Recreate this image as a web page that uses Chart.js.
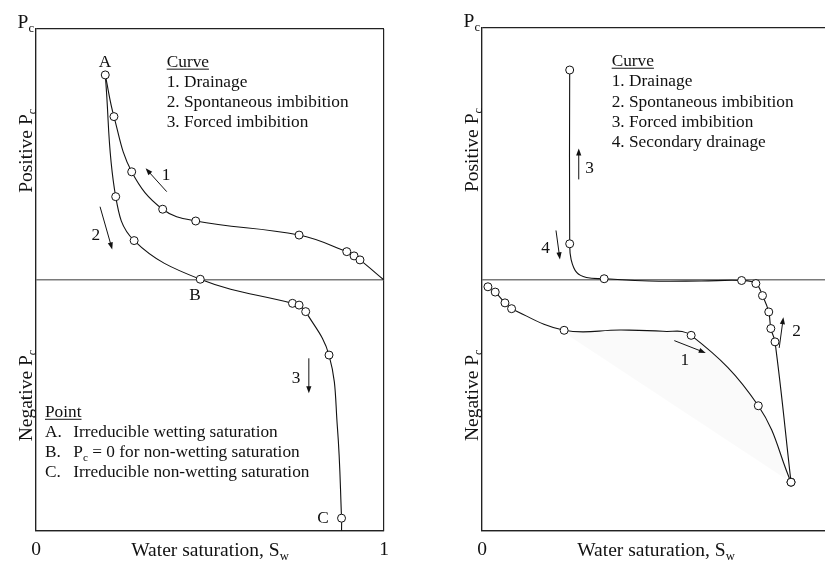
<!DOCTYPE html>
<html>
<head>
<meta charset="utf-8">
<title>Capillary pressure curves</title>
<script src="https://cdn.jsdelivr.net/npm/chart.js@4.4.1/dist/chart.umd.min.js"></script>
<style>
  html, body { margin: 0; padding: 0; background: #fff; overflow: hidden; }
  #wrap { position: relative; width: 825px; height: 561px; overflow: hidden; }
  canvas { position: absolute; top: 0; }
  #left { left: 0; }
  #right { left: 420px; }
</style>
</head>
<body>
<div id="wrap">
  <canvas id="left" width="420" height="561"></canvas>
  <canvas id="right" width="420" height="561"></canvas>
</div>
<script>
// points are [Sw, Pc, measured] ; Pc in relative units, +1 top / -1 bottom
const leftDrainage = [
  [0.199, 0.817, 1], [0.224, 0.651, 1], [0.275, 0.431, 1], [0.364, 0.282, 1],
  [0.459, 0.235, 1], [0.756, 0.179, 1], [0.893, 0.113, 1], [0.914, 0.096, 1],
  [0.931, 0.080, 1], [1.000, 0.000, 0]
];
// spontaneous imbibition A -> B, then forced imbibition B -> C
const leftImbibition = [
  [0.199, 0.817, 0], [0.229, 0.332, 1], [0.282, 0.157, 1], [0.472, 0.003, 1],
  [0.737, -0.093, 1], [0.756, -0.100, 1], [0.775, -0.126, 1], [0.842, -0.299, 1],
  [0.866, -0.585, 0], [0.878, -0.949, 1], [0.878, -1.000, 0]
];

const rightUpper = [
  [0.252, 0.833, 1], [0.252, 0.142, 1], [0.256, 0.080, 0], [0.272, 0.028, 0],
  [0.300, 0.008, 0], [0.351, 0.003, 1], [0.480, -0.006, 0], [0.630, -0.006, 0],
  [0.746, -0.004, 1], [0.787, -0.016, 1], [0.806, -0.064, 1], [0.824, -0.129, 1],
  [0.830, -0.195, 1], [0.842, -0.248, 1], [0.888, -0.806, 1]
];
const rightDrainage = [
  [0.017, -0.029, 1], [0.038, -0.050, 1], [0.066, -0.093, 1], [0.085, -0.116, 1],
  [0.236, -0.202, 1], [0.400, -0.201, 0], [0.520, -0.206, 0], [0.601, -0.222, 1],
  [0.794, -0.502, 1], [0.888, -0.806, 1]
];
// faint shaded band under the negative drainage curve
const rightShade = [[0.236, -0.212], [0.875, -0.795]];

const leftCurveNames = ['Curve', '1. Drainage', '2. Spontaneous imbibition', '3. Forced imbibition'];
const rightCurveNames = ['Curve', '1. Drainage', '2. Spontaneous imbibition', '3. Forced imbibition', '4. Secondary drainage'];
const pointNames = [
  ['A.', [['Irreducible wetting saturation']]],
  ['B.', [['P'], ['c', 1], [' = 0 for non-wetting saturation']]],
  ['C.', [['Irreducible non-wetting saturation']]]
];
const pointTags = [['A', 0.198, 0.850], ['B', 0.457, -0.080], ['C', 0.825, -0.969]];

// [x1, y1, x2, y2, label, labelX, labelY]  (head at x2,y2)
const leftArrows = [
  [0.3756, 0.352, 0.315, 0.445, '1', 0.374, 0.398],
  [0.184, 0.292, 0.219, 0.122, '2', 0.172, 0.159],
  [0.784, -0.312, 0.784, -0.451, '3', 0.747, -0.409]
];
const rightArrows = [
  [0.278, 0.398, 0.278, 0.521, '3', 0.309, 0.425],
  [0.2126, 0.195, 0.224, 0.080, '4', 0.183, 0.106],
  [0.5526, -0.243, 0.643, -0.292, '1', 0.583, -0.339],
  [0.854, -0.272, 0.866, -0.150, '2', 0.904, -0.226]
];

const INK = '#111';
const SERIF = "'Liberation Serif', 'Times New Roman', serif";
const font = size => `${size}px ${SERIF}`;

const toXY = pts => pts.map(p => ({ x: p[0], y: p[1] }));
const measured = (...curves) => curves.flat().filter(p => p[2]).map(p => ({ x: p[0], y: p[1] }));

// text made of [text, isSubscript] runs
function runWidth(ctx, parts, size) {
  let w = 0;
  parts.forEach(([t, sub]) => {
    ctx.font = font(sub ? size * 0.65 : size);
    w += ctx.measureText(t).width;
  });
  return w;
}

function drawRuns(ctx, parts, x, y, size, align) {
  const w = runWidth(ctx, parts, size);
  let cx = align === 'center' ? x - w / 2 : align === 'right' ? x - w : x;
  ctx.textAlign = 'left';
  ctx.textBaseline = 'alphabetic';
  parts.forEach(([t, sub]) => {
    ctx.font = font(sub ? size * 0.65 : size);
    ctx.fillText(t, cx, sub ? y + size * 0.22 : y);
    cx += ctx.measureText(t).width;
  });
  return w;
}

function underline(ctx, x, y, w) {
  ctx.beginPath();
  ctx.lineWidth = 1;
  ctx.moveTo(x, y + 2.5);
  ctx.lineTo(x + w, y + 2.5);
  ctx.stroke();
}

function arrow(ctx, x1, y1, x2, y2) {
  const ang = Math.atan2(y2 - y1, x2 - x1);
  const len = 7, half = 2.6;
  ctx.beginPath();
  ctx.lineWidth = 1;
  ctx.moveTo(x1, y1);
  ctx.lineTo(x2 - Math.cos(ang) * len * 0.8, y2 - Math.sin(ang) * len * 0.8);
  ctx.stroke();
  ctx.beginPath();
  ctx.moveTo(x2, y2);
  ctx.lineTo(x2 - Math.cos(ang) * len - Math.sin(ang) * half, y2 - Math.sin(ang) * len + Math.cos(ang) * half);
  ctx.lineTo(x2 - Math.cos(ang) * len + Math.sin(ang) * half, y2 - Math.sin(ang) * len - Math.cos(ang) * half);
  ctx.closePath();
  ctx.fill();
}

// axis captions, legends, point tags and direction arrows
function notes(cfg) {
  return {
    id: 'notes',
    afterDraw(chart) {
      const { ctx, chartArea: a, scales } = chart;
      const px = v => scales.x.getPixelForValue(v);
      const py = v => scales.y.getPixelForValue(v);
      ctx.save();
      ctx.fillStyle = INK;
      ctx.strokeStyle = INK;

      drawRuns(ctx, [['P'], ['c', 1]], a.left - 2, a.top - 1, 19.5, 'right');
      [['Positive P', 0.515], ['Negative P', -0.46]].forEach(([t, v]) => {
        ctx.save();
        ctx.translate(a.left - 4, py(v));
        ctx.rotate(-Math.PI / 2);
        drawRuns(ctx, [[t], ['c', 1]], 0, 0, 19.5, 'center');
        ctx.restore();
      });
      drawRuns(ctx, [['Water saturation, S'], ['w', 1]], px(0.5), a.bottom + 25, 19.5, 'center');

      // curve legend
      const lx = px(cfg.curveAt[0]), ly = py(cfg.curveAt[1]);
      cfg.curveNames.forEach((t, i) => {
        const w = drawRuns(ctx, [[t]], lx, ly + i * cfg.lineGap, 17.3, 'left');
        if (i === 0) underline(ctx, lx, ly, w);
      });

      // point legend
      if (cfg.pointAt) {
        const qx = px(cfg.pointAt[0]), qy = py(cfg.pointAt[1]);
        const w = drawRuns(ctx, [['Point']], qx, qy, 17.3, 'left');
        underline(ctx, qx, qy, w);
        cfg.pointNames.forEach(([tag, parts], i) => {
          const yy = qy + (i + 1) * 20;
          drawRuns(ctx, [[tag]], qx, yy, 17.3, 'left');
          drawRuns(ctx, parts, qx + 28.3, yy, 17.3, 'left');
        });
      }

      (cfg.tags || []).forEach(([t, x, y]) => drawRuns(ctx, [[t]], px(x), py(y), 17.3, 'center'));

      cfg.arrows.forEach(([x1, y1, x2, y2, t, tx, ty]) => {
        arrow(ctx, px(x1), py(y1), px(x2), py(y2));
        drawRuns(ctx, [[t]], px(tx), py(ty), 17.3, 'center');
      });
      ctx.restore();
    }
  };
}

function lineSet(pts, extra) {
  return Object.assign({
    data: toXY(pts),
    showLine: true,
    borderColor: INK,
    borderWidth: 1.1,
    pointRadius: 0,
    tension: 0.4,
    fill: false
  }, extra || {});
}

function markerSet(pts) {
  return {
    data: pts,
    showLine: false,
    pointRadius: 4,
    pointBackgroundColor: '#fff',
    pointBorderColor: INK,
    pointBorderWidth: 1
  };
}

function panelOptions(pad, showOne) {
  return {
    responsive: false,
    animation: false,
    events: [],
    layout: { padding: pad },
    plugins: { legend: { display: false }, tooltip: { enabled: false } },
    scales: {
      x: {
        type: 'linear', min: 0, max: 1,
        afterFit: s => { s.height = 30; },
        ticks: {
          stepSize: 1, maxRotation: 0, padding: 7, color: INK,
          font: { family: SERIF, size: 19.5 },
          callback: v => (v === 0 || showOne ? String(v) : '')
        },
        grid: { color: '#222', lineWidth: 1.2, drawTicks: false },
        border: { display: true, color: '#222', width: 1.2 }
      },
      y: {
        type: 'linear', min: -1, max: 1,
        afterFit: s => { s.width = 0; },
        ticks: { stepSize: 1, display: false },
        grid: {
          drawTicks: false,
          color: c => (c.tick.value === 0 ? '#7a7a7a' : '#222'),
          lineWidth: c => (c.tick.value === 0 ? 1.6 : 1.2)
        },
        border: { display: true, color: '#222', width: 1.2 }
      }
    }
  };
}

new Chart(document.getElementById('left'), {
  type: 'scatter',
  data: {
    datasets: [
      markerSet(measured(leftDrainage, leftImbibition)),
      lineSet(leftDrainage),
      lineSet(leftImbibition)
    ]
  },
  options: panelOptions({ left: 36, right: 36, top: 29, bottom: 0 }, true),
  plugins: [notes({
    curveAt: [0.3756, 0.850], curveNames: leftCurveNames, lineGap: 20,
    pointAt: [0.0259, -0.545], pointNames: pointNames,
    tags: pointTags, arrows: leftArrows
  })]
});

new Chart(document.getElementById('right'), {
  type: 'scatter',
  data: {
    datasets: [
      markerSet(measured(rightUpper, rightDrainage)),
      lineSet(rightUpper),
      lineSet(rightDrainage),
      lineSet(rightShade, { borderWidth: 0, tension: 0, fill: 2, backgroundColor: 'rgba(0,0,0,0.018)' })
    ]
  },
  options: panelOptions({ left: 62, right: 10, top: 28, bottom: 0 }, false),
  plugins: [notes({
    curveAt: [0.3727, 0.850], curveNames: rightCurveNames, lineGap: 20.4,
    arrows: rightArrows
  })]
});
</script>
</body>
</html>
